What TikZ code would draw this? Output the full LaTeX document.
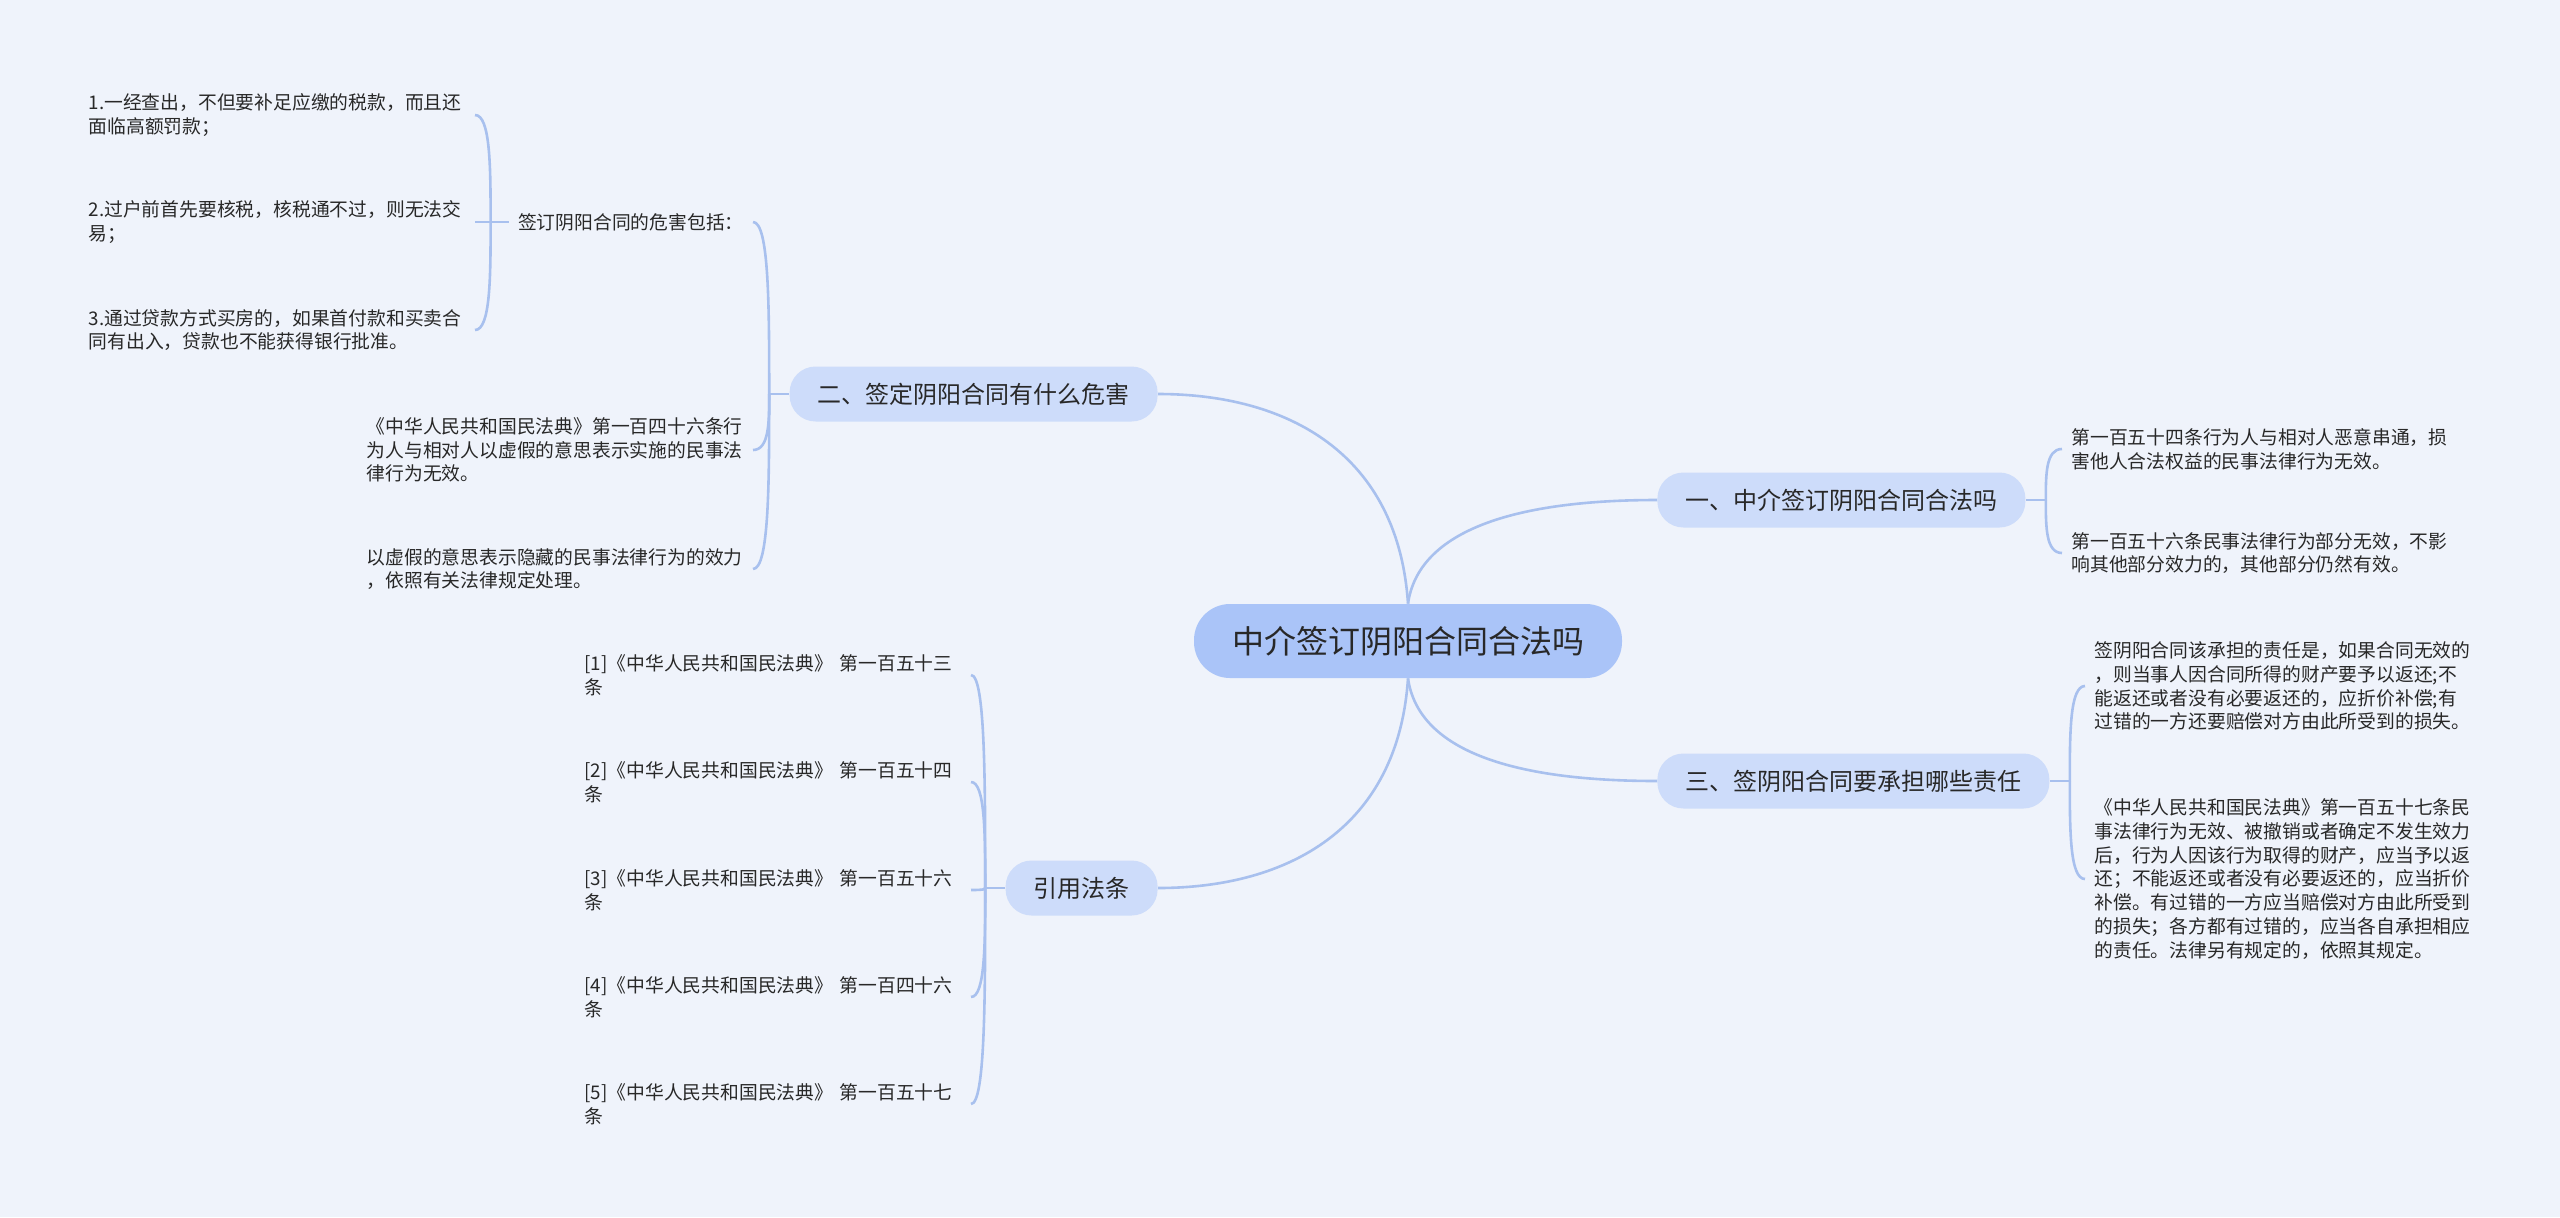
\documentclass[tikz,border=0pt]{standalone}
\usepackage{fontspec}
\setmainfont{Noto Sans CJK SC}
\usetikzlibrary{calc}
\definecolor{bgc}{RGB}{239,243,251}
\definecolor{rootc}{RGB}{170,196,248}
\definecolor{subc}{RGB}{205,220,250}
\definecolor{lnkc}{RGB}{168,192,238}
\definecolor{txtc}{RGB}{40,40,40}

\begin{document}
\begin{tikzpicture}[x=0.5pt,y=-0.5pt,
  link/.style={draw=lnkc,line width=1.3pt},
  rootbox/.style={fill=rootc,rounded corners=18pt,minimum height=37pt,
    minimum width=214pt,inner sep=0pt,text=txtc,font=\fontsize{16pt}{19pt}\selectfont},
  subbox/.style={fill=subc,rounded corners=13pt,minimum height=27.5pt,
    inner xsep=14pt,inner ysep=0pt,text=txtc,font=\fontsize{12pt}{14pt}\selectfont},
  leaf/.style={text width=188.5pt,align=left,inner xsep=4.5pt,inner ysep=0pt,
    text=txtc,font=\fontsize{9.4pt}{11.9pt}\selectfont},
  note/.style={inner xsep=4.5pt,inner ysep=0pt,text=txtc,font=\fontsize{9.4pt}{11.9pt}\selectfont}]
  \fill[bgc] (0,0) rectangle (2560,1217);
  \useasboundingbox (0,0) rectangle (2560,1217);
  \def\twig#1#2{
    \draw[link] (#1) .. controls ($(#1)!.5!(#1 |- #2)$) and (#1 |- #2) .. (#2);
  }

  \node[rootbox] (root) at (1408,641) {中介签订阴阳合同合法吗};
  \node[subbox,anchor=west] (yi) at (1657,500) {一、中介签订阴阳合同合法吗};
  \node[subbox,anchor=east] (er) at (1158,394) {二、签定阴阳合同有什么危害};
  \node[subbox,anchor=west] (san) at (1657,781) {三、签阴阳合同要承担哪些责任};
  \node[subbox,anchor=east] (yin) at (1158,888) {引用法条};

  \draw[link] (root.north) .. controls +(-10,-150) and +(130,0) .. (er.east);
  \draw[link] (root.north) .. controls +(10,-70) and +(-150,0) .. (yi.west);
  \draw[link] (root.south) .. controls +(-10,150) and +(130,0) .. (yin.east);
  \draw[link] (root.south) .. controls +(10,70) and +(-150,0) .. (san.west);

  % 一
  \coordinate (jyi) at ([xshift=10pt]yi.east);
  \draw[link] (yi.east) -- (jyi);
  \node[leaf,anchor=west] (yi1) at (2062,449) {第一百五十四条行为人与相对人恶意串通，损\\害他人合法权益的民事法律行为无效。};
  \node[leaf,anchor=west] (yi2) at (2062,553) {第一百五十六条民事法律行为部分无效，不影\\响其他部分效力的，其他部分仍然有效。};
  \twig{jyi}{yi1.west}
  \twig{jyi}{yi2.west}

  % 三
  \coordinate (jsan) at ([xshift=10pt]san.east);
  \draw[link] (san.east) -- (jsan);
  \node[leaf,anchor=west] (san1) at (2085,686) {签阴阳合同该承担的责任是，如果合同无效的\\，则当事人因合同所得的财产要予以返还;不\\能返还或者没有必要返还的，应折价补偿;有\\过错的一方还要赔偿对方由此所受到的损失。};
  \node[leaf,anchor=west] (san2) at (2085,879) {《中华人民共和国民法典》第一百五十七条民\\事法律行为无效、被撤销或者确定不发生效力\\后，行为人因该行为取得的财产，应当予以返\\还；不能返还或者没有必要返还的，应当折价\\补偿。有过错的一方应当赔偿对方由此所受到\\的损失；各方都有过错的，应当各自承担相应\\的责任。法律另有规定的，依照其规定。};
  \twig{jsan}{san1.west}
  \twig{jsan}{san2.west}

  % 二
  \coordinate (jer) at ([xshift=-10pt]er.west);
  \draw[link] (er.west) -- (jer);
  \node[note,anchor=east] (er1) at (753,222) {签订阴阳合同的危害包括：};
  \node[leaf,anchor=east] (er2) at (753,450) {《中华人民共和国民法典》第一百四十六条行\\为人与相对人以虚假的意思表示实施的民事法\\律行为无效。};
  \node[leaf,anchor=east] (er3) at (753,569) {以虚假的意思表示隐藏的民事法律行为的效力\\，依照有关法律规定处理。};
  \twig{jer}{er1.east}
  \twig{jer}{er2.east}
  \twig{jer}{er3.east}

  \coordinate (jer1) at ([xshift=-9pt]er1.west);
  \draw[link] (er1.west) -- (jer1);
  \node[leaf,anchor=east] (hai1) at (475,115) {1.一经查出，不但要补足应缴的税款，而且还\\面临高额罚款；};
  \node[leaf,anchor=east] (hai2) at (475,222) {2.过户前首先要核税，核税通不过，则无法交\\易；};
  \node[leaf,anchor=east] (hai3) at (475,330) {3.通过贷款方式买房的，如果首付款和买卖合\\同有出入，贷款也不能获得银行批准。};
  \twig{jer1}{hai1.east}
  \twig{jer1}{hai2.east}
  \twig{jer1}{hai3.east}

  % 引用法条
  \coordinate (jyin) at ([xshift=-10pt]yin.west);
  \draw[link] (yin.west) -- (jyin);
  \foreach \n/\y [count=\i] in {五十三/675,五十四/782,五十六/890,四十六/997,五十七/1104} {
    \node[leaf,anchor=east] (fa\i) at (971,\y) {[\i]《中华人民共和国民法典》 第一百\n\\条};
    \twig{jyin}{fa\i.east}
  }
\end{tikzpicture}
\end{document}
